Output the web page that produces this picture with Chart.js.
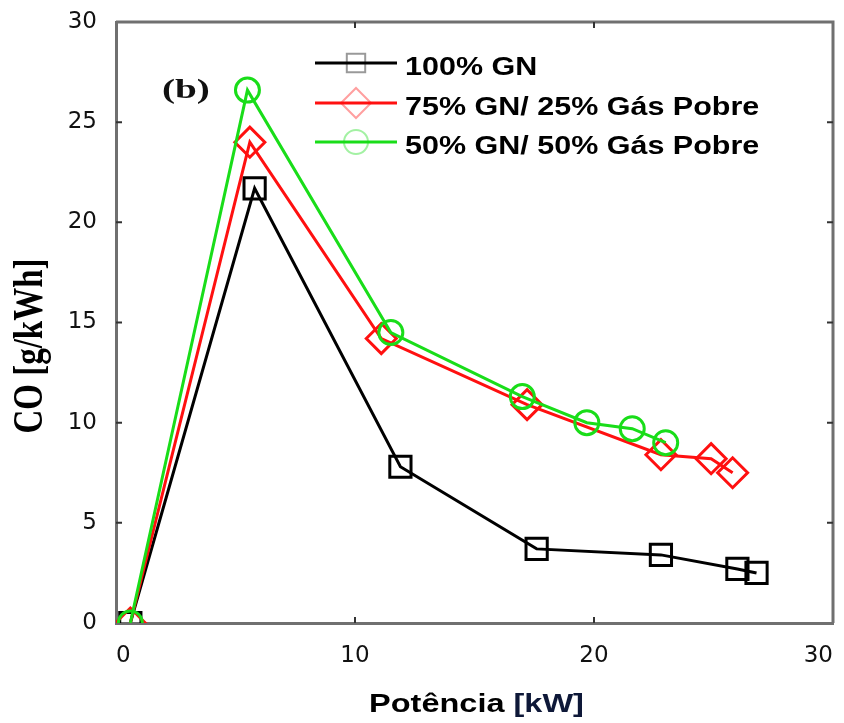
<!DOCTYPE html>
<html>
<head>
<meta charset="utf-8">
<title>CO x Potência</title>
<script src="https://cdn.jsdelivr.net/npm/chart.js@4/dist/chart.umd.min.js"></script>
<style>
  html, body { margin: 0; padding: 0; background: #ffffff; overflow: hidden; }
  #wrap { width: 844px; height: 723px; position: relative; overflow: hidden; }
  #chart { display: block; }
</style>
</head>
<body>
<div id="wrap"><canvas id="chart"></canvas></div>
<script>
// Series names
const seriesNames = ['100% GN', '75% GN/ 25% Gás Pobre', '50% GN/ 50% Gás Pobre'];

// 100% natural gas
const gnPower = [0.6, 5.8, 11.9, 17.6, 22.8, 26.0, 26.8];
const gnCO    = [0.0, 21.7, 7.8, 3.7, 3.4, 2.7, 2.5];

// 75% GN / 25% producer gas
const mix75Power = [0.6, 5.6, 11.1, 17.2, 22.8, 24.9, 25.8];
const mix75CO    = [0.0, 24.0, 14.2, 10.9, 8.4, 8.2, 7.5];

// 50% GN / 50% producer gas
const mix50Power = [0.6, 5.5, 11.5, 17.0, 19.7, 21.6, 23.0];
const mix50CO    = [0.0, 26.6, 14.5, 11.3, 10.0, 9.7, 9.0];

// Axis ranges and tick steps
const xRange = [0, 30];
const yRange = [0, 30];
const xStep = 10;
const yStep = 5;

// Texts
const xTitleMain = 'Potência ';
const xTitleUnit = '[kW]';
const yTitle = 'CO [g/kWh]';
const panelTag = '(b)';

const toPoints = (xs, ys) => xs.map((x, i) => ({ x: x, y: ys[i] }));

const seriesStyle = [
  { color: '#000000', marker: 'rect',    radius: 15 },
  { color: '#ff1010', marker: 'rectRot', radius: 15 },
  { color: '#19dd19', marker: 'circle',  radius: 12 }
];

const seriesData = [
  toPoints(gnPower, gnCO),
  toPoints(mix75Power, mix75CO),
  toPoints(mix50Power, mix50CO)
];

const datasets = seriesData.map((pts, i) => ({
  label: seriesNames[i],
  data: pts,
  showLine: true,
  borderColor: seriesStyle[i].color,
  borderWidth: 3,
  tension: 0,
  pointStyle: seriesStyle[i].marker,
  pointRadius: seriesStyle[i].radius,
  pointHoverRadius: seriesStyle[i].radius,
  pointBorderWidth: 3,
  pointBorderColor: seriesStyle[i].color,
  pointBackgroundColor: 'rgba(0,0,0,0)',
  order: 2 - i
}));

const FRAME = '#707070';

// Draws text stretched horizontally by sx
function wideText(ctx, text, x, y, sx) {
  ctx.save();
  ctx.translate(x, y);
  ctx.scale(sx, 1);
  ctx.fillText(text, 0, 0);
  ctx.restore();
}

const decorations = {
  id: 'decorations',
  afterDraw(chart) {
    const ctx = chart.ctx;
    const a = chart.chartArea;
    const xs = chart.scales.x;
    const ys = chart.scales.y;

    // top and right edges of the box
    ctx.save();
    ctx.strokeStyle = FRAME;
    ctx.lineWidth = 3;
    ctx.beginPath();
    ctx.moveTo(a.left, a.top);
    ctx.lineTo(a.right, a.top);
    ctx.lineTo(a.right, a.bottom);
    ctx.stroke();

    // inward tick marks on all four sides
    ctx.strokeStyle = '#333333';
    ctx.lineWidth = 2;
    const tl = 6;
    ctx.beginPath();
    ys.ticks.forEach(t => {
      if (t.value <= yRange[0] || t.value >= yRange[1]) return;
      const py = ys.getPixelForValue(t.value);
      ctx.moveTo(a.left, py); ctx.lineTo(a.left + tl, py);
      ctx.moveTo(a.right, py); ctx.lineTo(a.right - tl, py);
    });
    xs.ticks.forEach(t => {
      if (t.value <= xRange[0] || t.value >= xRange[1]) return;
      const px = xs.getPixelForValue(t.value);
      ctx.moveTo(px, a.bottom); ctx.lineTo(px, a.bottom - tl);
      ctx.moveTo(px, a.top); ctx.lineTo(px, a.top + tl);
    });
    ctx.stroke();
    ctx.restore();

    // x axis title
    ctx.save();
    ctx.fillStyle = '#000000';
    ctx.textBaseline = 'alphabetic';
    ctx.textAlign = 'left';
    ctx.font = 'bold 25px "Liberation Sans", Arial, sans-serif';
    const sxT = 1.3;
    const w1 = ctx.measureText(xTitleMain).width * sxT;
    const w2 = ctx.measureText(xTitleUnit).width * sxT;
    const cx = (a.left + a.right) / 2 + 2;
    const x0 = cx - (w1 + w2) / 2;
    wideText(ctx, xTitleMain, x0, 712, sxT);
    ctx.fillStyle = '#0e1838';
    wideText(ctx, xTitleUnit, x0 + w1, 712, sxT);
    ctx.restore();

    // y axis title (rotated)
    ctx.save();
    ctx.fillStyle = '#000000';
    ctx.font = 'bold 33px "Liberation Serif", "Times New Roman", serif';
    ctx.textAlign = 'center';
    ctx.textBaseline = 'middle';
    ctx.translate(31, 346);
    ctx.scale(1.25, 1);
    ctx.rotate(-Math.PI / 2);
    ctx.fillText(yTitle, 0, 0);
    ctx.restore();

    // panel tag
    ctx.save();
    ctx.fillStyle = '#111111';
    ctx.font = 'bold 28px "Liberation Serif", "Times New Roman", serif';
    ctx.textAlign = 'left';
    ctx.textBaseline = 'alphabetic';
    wideText(ctx, panelTag, 162, 98, 1.4);
    ctx.restore();

    // legend: line + faded hollow marker + label
    const rowsY = [63, 103, 142];
    const lineX0 = 315, lineX1 = 397, markX = 356, textX = 405;
    seriesNames.forEach((name, i) => {
      const st = seriesStyle[i];
      const y = rowsY[i];
      ctx.save();
      ctx.strokeStyle = st.color;
      ctx.lineWidth = 3;
      ctx.beginPath();
      ctx.moveTo(lineX0, y);
      ctx.lineTo(lineX1, y);
      ctx.stroke();
      ctx.globalAlpha = 0.4;
      ctx.lineWidth = 2;
      ctx.fillStyle = 'rgba(0,0,0,0)';
      Chart.helpers.drawPoint(ctx, {
        pointStyle: st.marker,
        radius: st.marker === 'circle' ? 12 : (st.marker === 'rect' ? 13 : 15),
        rotation: 0,
        borderWidth: 2
      }, markX, y);
      ctx.restore();

      ctx.save();
      ctx.fillStyle = '#000000';
      ctx.font = 'bold 25px "Liberation Sans", Arial, sans-serif';
      ctx.textAlign = 'left';
      ctx.textBaseline = 'alphabetic';
      wideText(ctx, name, textX, y + 12, 1.22);
      ctx.restore();
    });
  }
};

const tickFont = { family: '"DejaVu Sans", sans-serif', size: 23 };

new Chart(document.getElementById('chart'), {
  type: 'scatter',
  data: { datasets: datasets },
  options: {
    responsive: true,
    maintainAspectRatio: false,
    animation: false,
    layout: { autoPadding: false, padding: { top: 22, right: 11, left: 0, bottom: 0 } },
    plugins: {
      legend: { display: false },
      tooltip: { enabled: false }
    },
    scales: {
      x: {
        type: 'linear',
        min: xRange[0],
        max: xRange[1],
        ticks: { stepSize: xStep, padding: 19, font: tickFont, color: '#111111', maxRotation: 0, align: 'inner' },
        grid: { display: true, drawOnChartArea: false, drawTicks: false, color: FRAME },
        border: { display: true, color: FRAME, width: 3 },
        afterFit(scale) {
          scale.height = 100;
          scale.paddingLeft = 0;
          scale.paddingRight = 0;
        }
      },
      y: {
        type: 'linear',
        min: yRange[0],
        max: yRange[1],
        ticks: { stepSize: yStep, padding: 19, font: tickFont, color: '#111111' },
        grid: { display: true, drawOnChartArea: false, drawTicks: false, color: FRAME },
        border: { display: true, color: FRAME, width: 3 },
        afterFit(scale) {
          scale.width = 116;
          scale.paddingTop = 0;
          scale.paddingBottom = 0;
        }
      }
    }
  },
  plugins: [decorations]
});
</script>
</body>
</html>
